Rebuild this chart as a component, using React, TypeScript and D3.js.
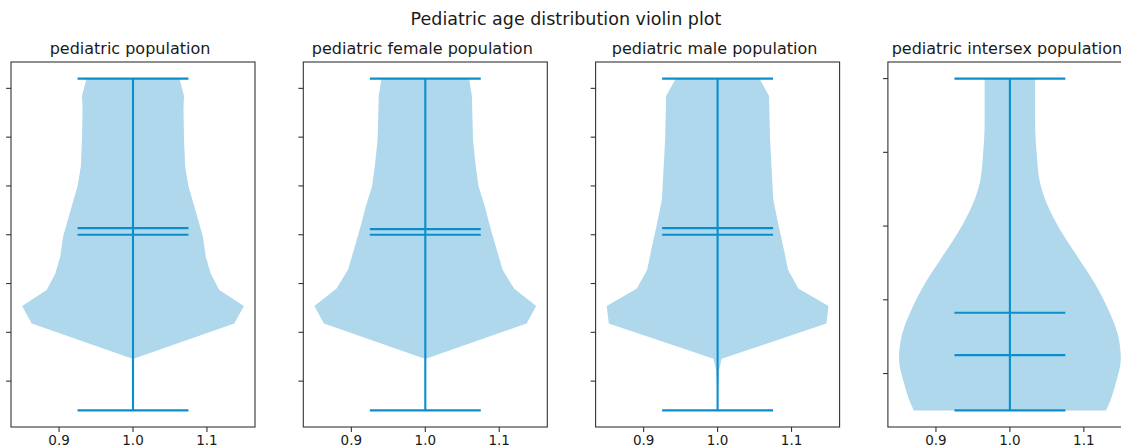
import React from "react";
import * as d3 from "d3";

const suptitle = "Pediatric age distribution violin plot";
const titles = [
  "pediatric population",
  "pediatric female population",
  "pediatric male population",
  "pediatric intersex population",
];

// density profiles (age, relative half-width)
const agesAll = [1, 3.4, 3.65, 5.45, 6.35, 7.17, 8.02, 8.88, 9.91, 11.45, 12.48, 13.51, 14.9, 16.43, 17.11, 18];
const densAll = [0, 0, 0.005, 0.913, 1.0, 0.778, 0.7, 0.656, 0.63, 0.553, 0.5, 0.47, 0.46, 0.455, 0.46, 0.418];

const agesFemale = [1, 3.4, 3.65, 5.45, 6.35, 7.25, 8.2, 9.57, 10.6, 11.45, 12.48, 13.51, 14.88, 17.11, 18];
const densFemale = [0, 0, 0.005, 0.914, 1.0, 0.8, 0.697, 0.627, 0.575, 0.537, 0.48, 0.455, 0.43, 0.42, 0.395];

const agesMale = [1, 2.03, 3.06, 3.65, 5.45, 6.35, 7.25, 8.2, 9.23, 10.6, 11.8, 13.51, 14.88, 17.11, 18];
const densMale = [0, 0.004, 0.013, 0.037, 0.981, 1.0, 0.728, 0.635, 0.598, 0.545, 0.502, 0.486, 0.473, 0.464, 0.377];

const agesIntersex = [9, 9.27, 9.72, 10.4, 11.09, 11.72, 12.45, 13.17, 13.9, 14.53, 15.17, 15.99, 16.8, 18];
const densIntersex = [0.866, 0.906, 0.953, 1.0, 0.97, 0.89, 0.765, 0.61, 0.453, 0.344, 0.272, 0.241, 0.228, 0.228];

const mins = [1, 1, 1, 9];
const maxs = [18, 18, 18, 18];
const means = [10.34, 10.29, 10.34, 11.65];
const medians = [10, 10, 10, 10.5];

const yTicksA = [2.5, 5, 7.5, 10, 12.5, 15, 17.5];
const yTicksB = [10, 12, 14, 16, 18];
const xTicks = [0.9, 1.0, 1.1];
const xTickLabels = ["0.9", "1.0", "1.1"];

const profiles = [
  { ages: agesAll, dens: densAll },
  { ages: agesFemale, dens: densFemale },
  { ages: agesMale, dens: densMale },
  { ages: agesIntersex, dens: densIntersex },
];
const yTickSets = [yTicksA, yTicksA, yTicksA, yTicksB];

const W = 1121;
const H = 446;
const TOP = 62;
const BOTTOM = 427;
const PW = 244;
const FILL = "#afd8ec";
const LINE = "#0a8fcc";
const TEXT = "#1a1a1a";
const FONT = "'DejaVu Sans', sans-serif";

function Panel({ i }: { i: number }) {
  const left = 11 + i * 292.3;
  const x = d3.scaleLinear().domain([0.835, 1.165]).range([left, left + PW]);
  const lo = mins[i];
  const hi = maxs[i];
  const pad = (hi - lo) * 0.05;
  const y = d3.scaleLinear().domain([lo - pad, hi + pad]).range([BOTTOM, TOP]);
  const prof = profiles[i];
  const pts: [number, number][] = prof.ages.map((a, k) => [a, prof.dens[k]]);
  const area = d3
    .area<[number, number]>()
    .y((d) => y(d[0]))
    .x0((d) => x(1 - 0.15 * d[1]))
    .x1((d) => x(1 + 0.15 * d[1]))
    .curve(i === 3 ? d3.curveMonotoneY : d3.curveLinear);
  const cx = x(1);
  const capL = x(0.925);
  const capR = x(1.075);
  const hl = (v: number, key: string) => (
    <line key={key} x1={capL} x2={capR} y1={y(v)} y2={y(v)} stroke={LINE} strokeWidth={2.1} />
  );
  return (
    <g>
      <path d={area(pts) || ""} fill={FILL} />
      <line x1={cx} x2={cx} y1={y(lo)} y2={y(hi)} stroke={LINE} strokeWidth={2.1} />
      {hl(lo, "min")}
      {hl(hi, "max")}
      {hl(means[i], "mean")}
      {hl(medians[i], "median")}
      <rect x={left} y={TOP} width={PW} height={BOTTOM - TOP} fill="none" stroke="#333" strokeWidth={1.1} />
      {yTickSets[i].map((t) => (
        <line key={"y" + t} x1={left - 4.9} x2={left} y1={y(t)} y2={y(t)} stroke="#333" strokeWidth={1.1} />
      ))}
      {xTicks.map((t, k) => (
        <g key={"x" + t}>
          <line x1={x(t)} x2={x(t)} y1={BOTTOM} y2={BOTTOM + 4.9} stroke="#333" strokeWidth={1.1} />
          <text x={x(t)} y={445} textAnchor="middle" fontSize={13.5} fontFamily={FONT} fill={TEXT}>
            {xTickLabels[k]}
          </text>
        </g>
      ))}
      <text x={left + PW / 2 - 3} y={53.5} textAnchor="middle" fontSize={16} fontFamily={FONT} fill={TEXT}>
        {titles[i]}
      </text>
    </g>
  );
}

export default function App() {
  return (
    <div style={{ position: "absolute", left: 0, top: 0, width: W, height: H, overflow: "hidden", background: "#fff" }}>
      <svg width={W} height={H} style={{ display: "block" }}>
        <rect x={0} y={0} width={W} height={H} fill="#fff" />
        <text x={566} y={25} textAnchor="middle" fontSize={17.5} fontFamily={FONT} fill={TEXT}>
          {suptitle}
        </text>
        {[0, 1, 2, 3].map((i) => (
          <Panel key={i} i={i} />
        ))}
      </svg>
    </div>
  );
}
